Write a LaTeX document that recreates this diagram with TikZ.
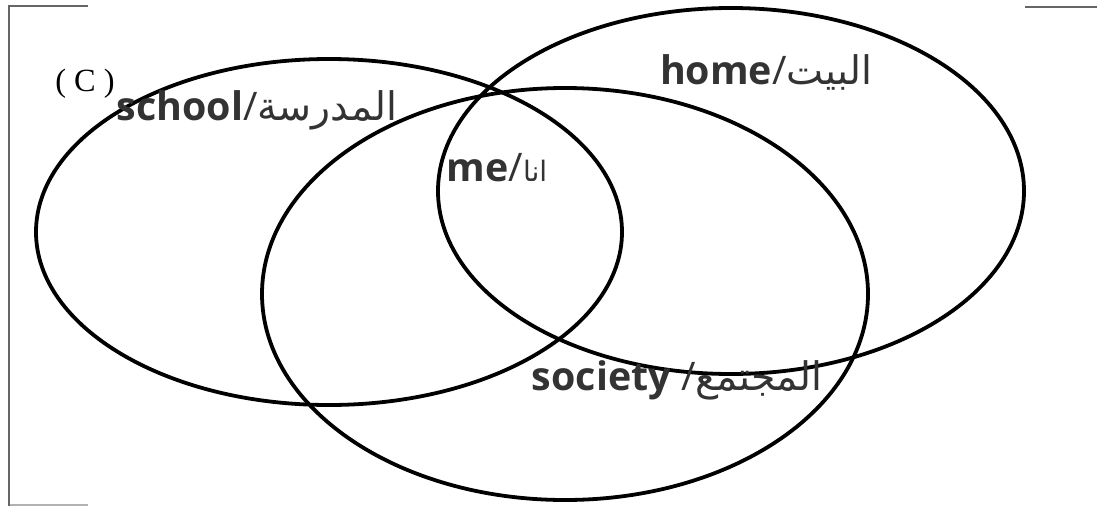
\documentclass[tikz,border=0pt]{standalone}
\usepackage{fontspec}
\setmainfont{Open Sans}
\newfontfamily\arabicfont[Script=Arabic]{DejaVu Sans}
\newfontfamily\serifname{Liberation Serif}
\TeXXeTstate=1
\usetikzlibrary{positioning}

\begin{document}
\begin{tikzpicture}[
    x=0.025cm, y=-0.025cm,
    ring/.style={draw=black, line width=2.7pt},
    frameline/.style={draw=black!60, line width=1.4pt},
    label/.style={font=\fontsize{28}{30}\selectfont, text=black!80, inner sep=0pt}
]
\useasboundingbox (0,0) rectangle (1097,506);

% Frame pieces
\draw[frameline] (88,6) -- (9,6) -- (9,506);
\draw[frameline] (1025,7) -- (1097,7);
\draw[frameline, black!30] (10,505) -- (88,505);

% Circles
\coordinate (schoolc) at (329,232);
\coordinate (homec) at (731,191);
\coordinate (societyc) at (565,294);
\draw[ring] (schoolc) ellipse [x radius=293, y radius=173];
\draw[ring] (homec) ellipse [x radius=293, y radius=183];
\draw[ring] (societyc) ellipse [x radius=303, y radius=206];

% Labels
\node[label, font=\serifname\fontsize{23}{25}\selectfont, text=black] (tag) at (85,84) {( C )};
\node[label] (school) at (257,110) {\textbf{school}/{\arabicfont\beginR المدرسة\endR}};
\node[label] (me) at (497,168) {\textbf{me}/{\arabicfont\fontsize{20}{22}\selectfont\beginR انا\endR}};
\node[label] (home) at (766,72) {\textbf{home}/{\arabicfont\beginR البيت\endR}};
\node[label] (society) at (677,380) {\textbf{society} /{\arabicfont\beginR المجتمع\endR}};

\end{tikzpicture}
\end{document}
